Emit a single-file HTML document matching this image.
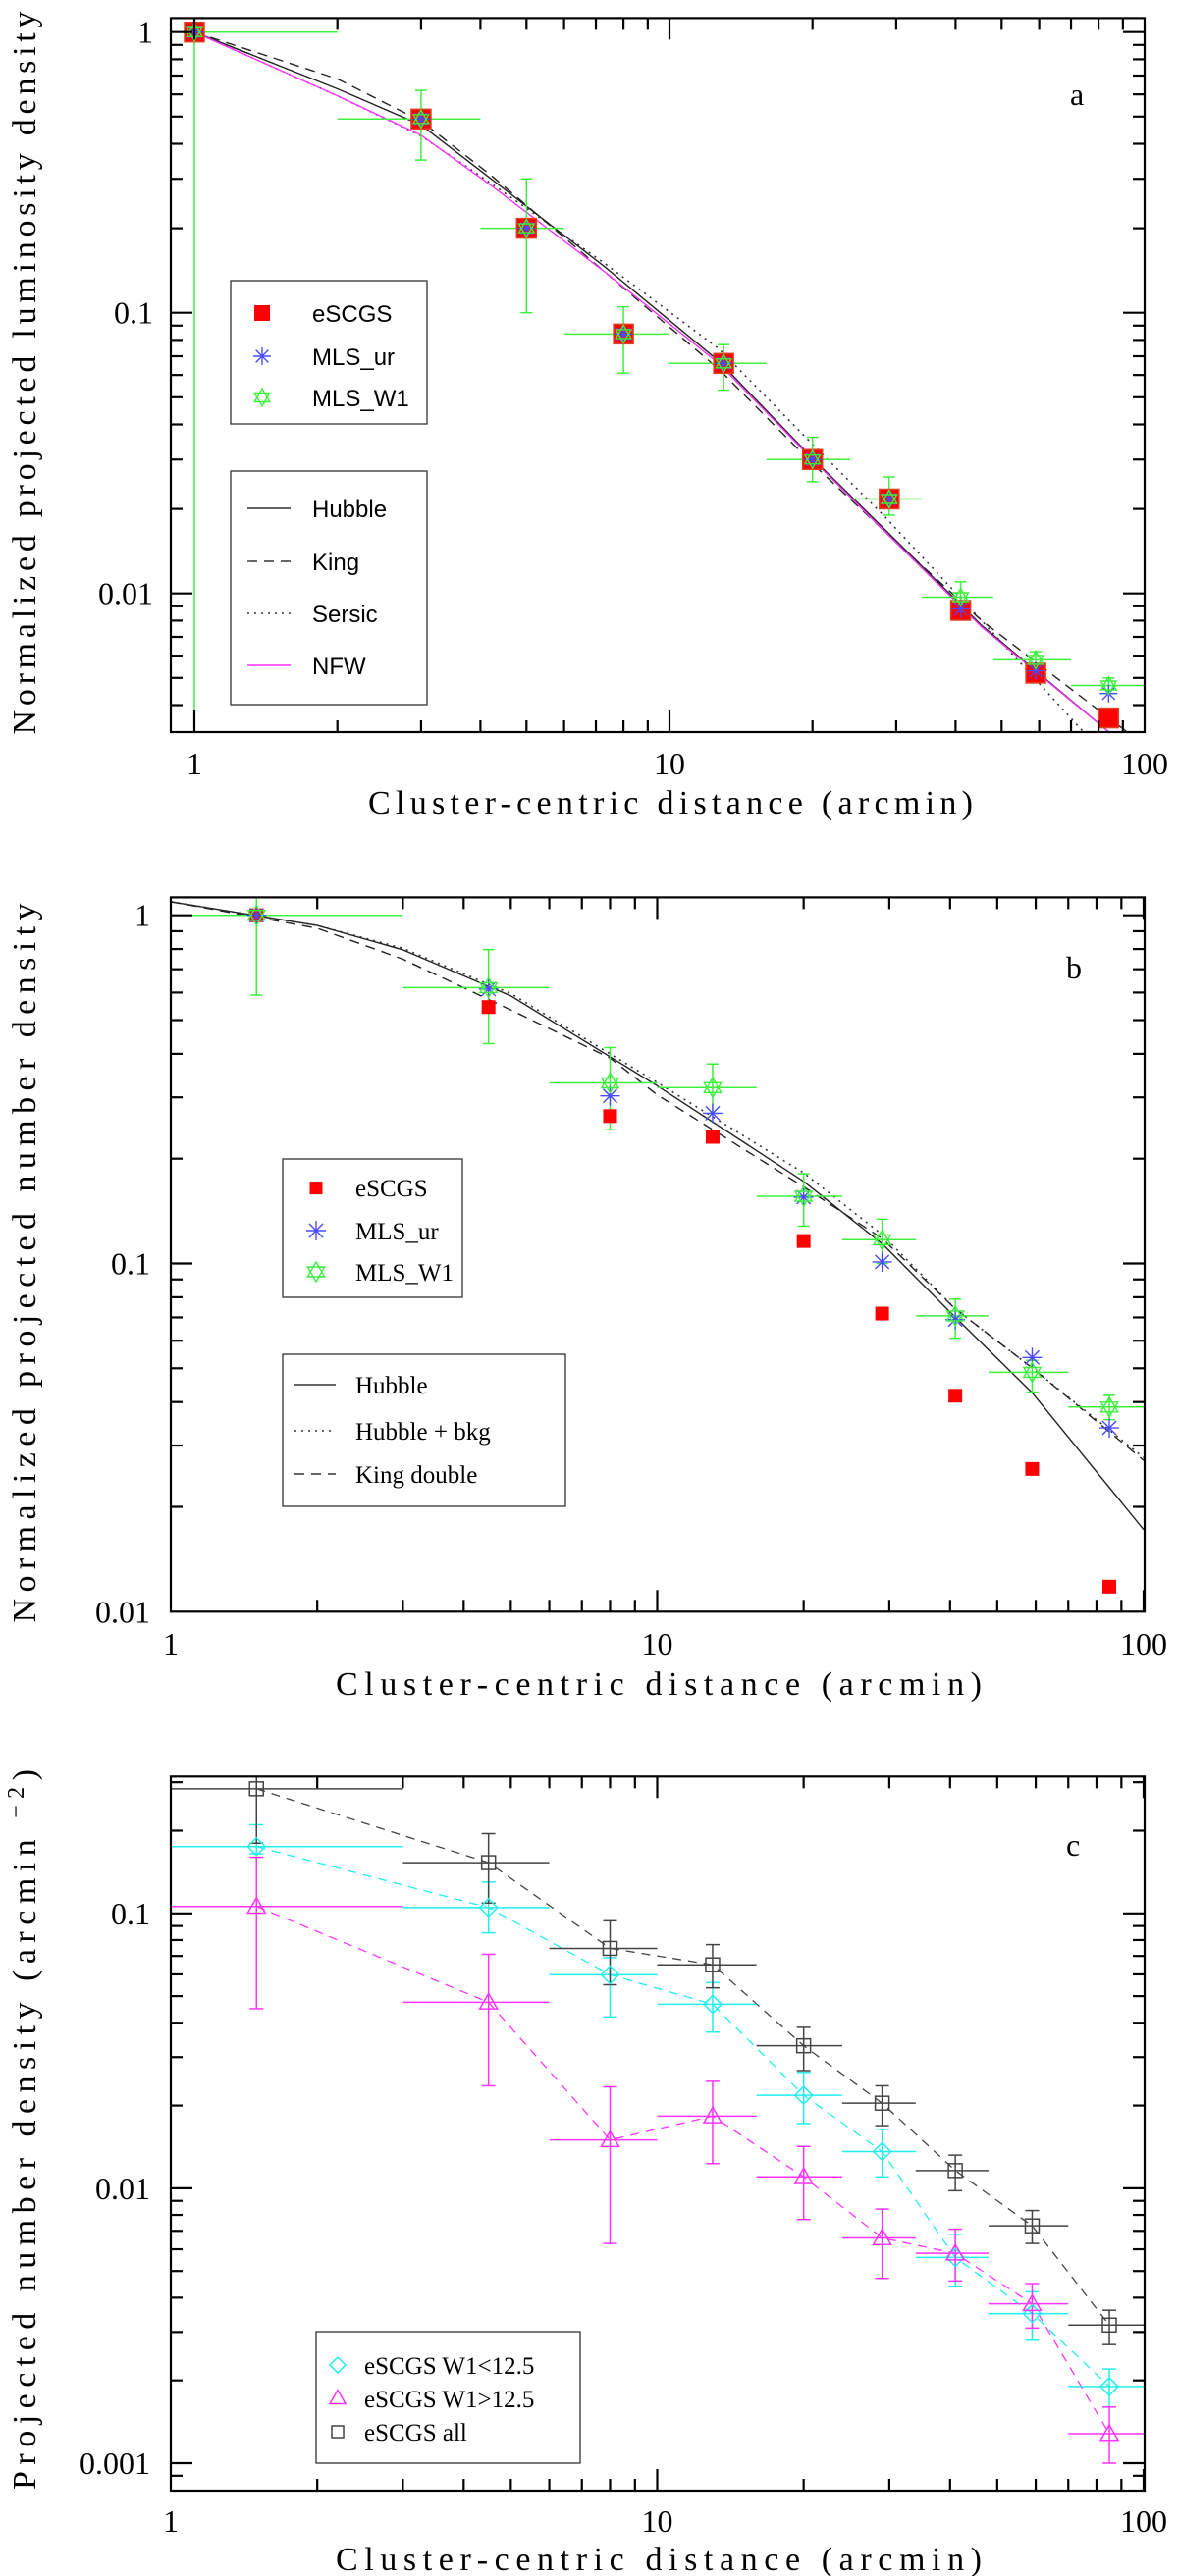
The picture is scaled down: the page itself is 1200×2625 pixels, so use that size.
<!DOCTYPE html>
<html><head><meta charset="utf-8"><style>
html,body{margin:0;padding:0;background:#fff}
svg{display:block}
</style></head><body>
<svg id="fig" xmlns="http://www.w3.org/2000/svg" width="1200" height="2625" viewBox="0 0 1200 2625">
<rect width="1200" height="2625" fill="#fff"/>
</svg>
<script>
// ---------- Panel a data ----------
const aX = [1, 3, 5, 8, 13, 20, 29, 41, 59, 84];
const aEscgs = [1, 0.49, 0.20, 0.084, 0.066, 0.030, 0.0217, 0.0087, 0.0052, 0.0036];
const aMlsUr = [1, 0.49, 0.20, 0.084, 0.066, 0.030, 0.0217, 0.0088, 0.0053, 0.0044];
const aMlsW1 = [1, 0.49, 0.20, 0.084, 0.066, 0.030, 0.0217, 0.0097, 0.0058, 0.0047];
const aXlo = [1, 2, 4, 6, 10, 16, 24, 34, 48, 70];
const aXhi = [2, 4, 6, 10, 16, 24, 34, 48, 70, 100];
const aYlo = [0.001, 0.35, 0.10, 0.061, 0.053, 0.025, 0.019, 0.0085, 0.0052, 0.0044];
const aYhi = [1, 0.62, 0.30, 0.105, 0.077, 0.036, 0.026, 0.011, 0.0062, 0.005];
const aHubbleX = [1, 2, 3, 4.2, 7.3, 12.7, 20, 28.2, 45.4, 85];
const aHubbleY = [1, 0.628, 0.467, 0.301, 0.146, 0.0673, 0.0303, 0.0171, 0.00769, 0.00316];
const aKingX = [1, 2, 3, 4.2, 7.3, 12.7, 20, 28.2, 45.4, 93];
const aKingY = [1, 0.681, 0.482, 0.31, 0.140, 0.0630, 0.0290, 0.0168, 0.0080, 0.00316];
const aSersicX = [1, 2, 3, 4.2, 7.3, 12.7, 20, 28.2, 45.4, 75];
const aSersicY = [1, 0.593, 0.427, 0.29, 0.150, 0.0745, 0.0340, 0.0190, 0.0080, 0.00316];
const aNfwX = [1, 2, 3, 4.2, 7.3, 12.7, 20, 28.2, 45.4, 85];
const aNfwY = [1, 0.593, 0.429, 0.285, 0.140, 0.0660, 0.0300, 0.0168, 0.00760, 0.00316];
// ---------- Panel b data ----------
const bX = [1.5, 4.5, 8, 13, 20, 29, 41, 59, 85];
const bEscgs = [1, 0.545, 0.265, 0.231, 0.116, 0.0718, 0.0417, 0.0257, 0.0118];
const bMlsUr = [1, 0.614, 0.303, 0.270, 0.155, 0.101, 0.069, 0.0537, 0.0337];
const bMlsW1 = [1, 0.62, 0.33, 0.32, 0.156, 0.117, 0.0707, 0.0487, 0.0387];
const bXlo = [1, 3, 6, 10, 16, 24, 34, 48, 70];
const bXhi = [3, 6, 10, 16, 24, 34, 48, 70, 100];
const bYlo = [0.59, 0.428, 0.242, 0.27, 0.128, 0.10, 0.061, 0.0427, 0.0356];
const bYhi = [1.2, 0.797, 0.417, 0.374, 0.181, 0.134, 0.079, 0.0527, 0.0418];
const bHubbleX = [1, 2, 3, 5, 10, 20, 29, 41, 59, 100];
const bHubbleY = [1.094, 0.935, 0.796, 0.587, 0.324, 0.172, 0.114, 0.0701, 0.0425, 0.0172];
const bBkgX = [1, 2, 3, 5, 10, 20, 29, 41, 59, 100];
const bBkgY = [1.094, 0.935, 0.804, 0.596, 0.331, 0.182, 0.121, 0.0741, 0.0501, 0.0277];
const bKingX = [1, 2, 3, 5, 8, 10, 20, 29, 41, 59, 100];
const bKingY = [1.094, 0.918, 0.748, 0.535, 0.389, 0.305, 0.166, 0.118, 0.0741, 0.0501, 0.0272];
// ---------- Panel c data ----------
const cX = [1.5, 4.5, 8, 13, 20, 29, 41, 59, 85];
const cXlo = [1, 3, 6, 10, 16, 24, 34, 48, 70];
const cXhi = [3, 6, 10, 16, 24, 34, 48, 70, 100];
const cAll = [0.284, 0.153, 0.0746, 0.065, 0.033, 0.0204, 0.0116, 0.0073, 0.00318];
const cAllLo = [0.18, 0.109, 0.055, 0.0536, 0.0268, 0.0169, 0.0098, 0.0063, 0.0027];
const cAllHi = [0.32, 0.195, 0.094, 0.077, 0.0385, 0.0236, 0.0132, 0.0083, 0.0036];
const cBright = [0.175, 0.105, 0.0598, 0.0467, 0.0218, 0.0136, 0.0056, 0.0035, 0.0019];
const cBrightLo = [0.165, 0.085, 0.042, 0.037, 0.0172, 0.011, 0.0044, 0.0028, 0.0016];
const cBrightHi = [0.21, 0.13, 0.069, 0.056, 0.0264, 0.0164, 0.0068, 0.0042, 0.0022];
const cFaint = [0.106, 0.0475, 0.015, 0.0183, 0.011, 0.0066, 0.0058, 0.0038, 0.00128];
const cFaintLo = [0.045, 0.0236, 0.0063, 0.0123, 0.0077, 0.0047, 0.0046, 0.0031, 0.001];
const cFaintHi = [0.16, 0.071, 0.0234, 0.0245, 0.0142, 0.0084, 0.0071, 0.0045, 0.0016];

const NS = 'http://www.w3.org/2000/svg';
const svg = document.getElementById('fig');
const GREEN = '#3ef03e', BLUE = '#4a4aff', RED = '#ff0000', MAG = '#ff33ff', CYAN = '#22eeee', GRAY = '#444';
function mk(tag, attrs, parent) {
  const e = document.createElementNS(NS, tag);
  for (const k in attrs) e.setAttribute(k, attrs[k]);
  (parent || svg).appendChild(e);
  return e;
}
const L = Math.log10;

function makePanel(id, box, xAt1, xDec, yRefVal, yRefPix, yDec) {
  const P = {box};
  P.X = v => xAt1 + L(v) * xDec;
  P.Y = v => yRefPix - (L(v) - L(yRefVal)) * yDec;
  P.g = mk('g', {});
  
  
  const cp = mk('clipPath', {id: 'clip-' + id});
  mk('rect', {x: box.l, y: box.t, width: box.r - box.l, height: box.b - box.t}, cp);
  P.data = mk('g', {'clip-path': 'url(#clip-' + id + ')'}, P.g);
  
  
  return P;
}

function axes(P, id, yTicks, yLabels, xLabelY, yLabRight) {
  const b = P.box;
  const ax = mk('g', {stroke: '#000', 'stroke-width': 2.2, fill: 'none'}, P.g);
  
  
  mk('rect', {x: b.l, y: b.t, width: b.r - b.l, height: b.b - b.t}, ax);
  for (let d = 0; d <= 2; d++) for (let m = 1; m <= 9; m++) {
    const v = m * Math.pow(10, d);
    const x = P.X(v);
    if (x < b.l + 1 || x > b.r - 1) continue;
    const len = m === 1 ? 22 : 12;
    mk('line', {x1: x, x2: x, y1: b.b, y2: b.b - len}, ax);
    mk('line', {x1: x, x2: x, y1: b.t, y2: b.t + len}, ax);
  }
  for (let d = -4; d <= 1; d++) for (let m = 1; m <= 9; m++) {
    const v = m * Math.pow(10, d);
    const y = P.Y(v);
    if (y < b.t + 1 || y > b.b - 1) continue;
    const len = m === 1 ? 22 : 12;
    mk('line', {x1: b.l, x2: b.l + len, y1: y, y2: y}, ax);
    mk('line', {x1: b.r, x2: b.r - len, y1: y, y2: y}, ax);
  }
  const xl = ['1', '10', '100'], xv = [1, 10, 100];
  xv.forEach((v, i) => {
    const t = mk('text', {x: P.X(v), y: xLabelY, 'text-anchor': 'middle', 'font-family': 'Liberation Serif, serif', 'font-size': 32, fill: '#000'}, P.g);
    t.textContent = xl[i];
    
    
  });
  yTicks.forEach((v, i) => {
    const t = mk('text', {x: yLabRight, y: P.Y(v) + 11, 'text-anchor': 'end', 'font-family': 'Liberation Serif, serif', 'font-size': 32, fill: '#000'}, P.g);
    t.textContent = yLabels[i];
    
    
  });
}

function titles(P, id, xt, xc, xb, xlen, yt, yc, ylen, sup) {
  const t = mk('text', {x: xc, y: xb, 'text-anchor': 'middle', 'font-family': 'Liberation Serif, serif', 'font-size': 34, fill: '#000', textLength: xlen, lengthAdjust: 'spacing'}, P.g);
  t.textContent = xt;
  
  
  const y = mk('text', {x: 0, y: 0, 'text-anchor': 'middle', 'font-family': 'Liberation Serif, serif', 'font-size': 34, fill: '#000', transform: 'translate(36,' + yc + ') rotate(-90)', textLength: ylen, lengthAdjust: 'spacing'}, P.g);
  if (sup) {
    y.appendChild(document.createTextNode(yt));
    const s = mk('tspan', {'font-size': 24, dy: -12}, y);
    s.textContent = '\u2212' + '2';
    const s2 = mk('tspan', {dy: 12}, y);
    s2.textContent = ')';
  } else y.textContent = yt;
  
  
}

function polyline(P, xs, ys, color, dash, w, name) {
  const pts = xs.map((x, i) => P.X(x).toFixed(1) + ',' + P.Y(ys[i]).toFixed(1)).join(' ');
  const p = mk('polyline', {points: pts, fill: 'none', stroke: color, 'stroke-width': w || 1.4, 'stroke-dasharray': dash || 'none', 'stroke-linejoin': 'round'}, P.data);
  
  
  return p;
}

function errbar(P, x, y, xlo, xhi, ylo, yhi, color, cap, name) {
  const g = mk('g', {stroke: color, 'stroke-width': 1.5}, P.data);
  
  
  mk('line', {x1: P.X(xlo), x2: P.X(xhi), y1: P.Y(y), y2: P.Y(y)}, g);
  mk('line', {x1: P.X(x), x2: P.X(x), y1: P.Y(ylo), y2: P.Y(yhi)}, g);
  mk('line', {x1: P.X(x) - cap, x2: P.X(x) + cap, y1: P.Y(ylo), y2: P.Y(ylo)}, g);
  mk('line', {x1: P.X(x) - cap, x2: P.X(x) + cap, y1: P.Y(yhi), y2: P.Y(yhi)}, g);
}

function sq(parent, cx, cy, s, fill, stroke) {
  return mk('rect', {x: cx - s / 2, y: cy - s / 2, width: s, height: s, fill: fill, stroke: stroke || 'none', 'stroke-width': 1.5}, parent);
}
function star(parent, cx, cy, r, color) {
  const g = mk('g', {stroke: color, 'stroke-width': 1.4}, parent);
  for (let k = 0; k < 4; k++) {
    const a = k * Math.PI / 4;
    mk('line', {x1: cx - r * Math.cos(a), y1: cy - r * Math.sin(a), x2: cx + r * Math.cos(a), y2: cy + r * Math.sin(a)}, g);
  }
  return g;
}
function david(parent, cx, cy, r, color) {
  const g = mk('g', {stroke: color, 'stroke-width': 1.4, fill: 'none'}, parent);
  const t1 = [], t2 = [];
  for (let k = 0; k < 3; k++) {
    const a = -Math.PI / 2 + k * 2 * Math.PI / 3;
    t1.push((cx + r * Math.cos(a)).toFixed(1) + ',' + (cy + r * Math.sin(a)).toFixed(1));
    t2.push((cx + r * Math.cos(a + Math.PI)).toFixed(1) + ',' + (cy + r * Math.sin(a + Math.PI)).toFixed(1));
  }
  mk('polygon', {points: t1.join(' ')}, g);
  mk('polygon', {points: t2.join(' ')}, g);
  return g;
}
function diamond(parent, cx, cy, r, color) {
  return mk('polygon', {points: `${cx},${cy - r} ${cx + r},${cy} ${cx},${cy + r} ${cx - r},${cy}`, fill: 'none', stroke: color, 'stroke-width': 1.5}, parent);
}
function tri(parent, cx, cy, r, color) {
  return mk('polygon', {points: `${cx},${cy - r} ${cx + r},${cy + r * 0.75} ${cx - r},${cy + r * 0.75}`, fill: 'none', stroke: color, 'stroke-width': 1.5}, parent);
}
function legendBox(P, x, y, w, h, name) {
  const r = mk('rect', {x: x, y: y, width: w, height: h, fill: '#fff', stroke: '#333', 'stroke-width': 1.3}, P.g);
  
  
}
function ltext(P, x, y, s, font, size, name) {
  const t = mk('text', {x: x, y: y, 'font-family': font, 'font-size': size, fill: '#000'}, P.g);
  t.textContent = s;
  
  
  return t;
}

// ================= Panel a =================
const A = makePanel('a', {l: 174, r: 1166, t: 18.4, b: 746}, 198, 484, 1, 32.7, 286);
polyline(A, aHubbleX, aHubbleY, '#222', null, 1.4, 'hubble-curve');
polyline(A, aKingX, aKingY, '#222', '10 7', 1.4, 'king-curve');
polyline(A, aSersicX, aSersicY, '#333', '2 5', 1.6, 'sersic-curve');
polyline(A, aNfwX, aNfwY, MAG, null, 1.4, 'nfw-curve');
aX.forEach((x, i) => {
  errbar(A, x, aMlsW1[i], aXlo[i], aXhi[i], aYlo[i], aYhi[i], GREEN, 6, 'mls-w1-errorbar');
});
aX.forEach((x, i) => {
  const s = sq(A.data, A.X(x), A.Y(aEscgs[i]), 20, RED, '#e04020');
  
  
  const st = star(A.data, A.X(x), A.Y(aMlsUr[i]), 9, BLUE);
  
  
  const d = david(A.data, A.X(x), A.Y(aMlsW1[i]), 9, GREEN);
  
  
});
axes(A, 'a', [1, 0.1, 0.01], ['1', '0.1', '0.01'], 789, 156);
titles(A, 'a', 'Cluster-centric distance (arcmin)', 683, 829, 616, 'Normalized projected luminosity density', 380, 737, false);
ltext(A, 1090, 107, 'a', 'Liberation Serif, serif', 32, 'panel-label-a');
legendBox(A, 235, 286, 200, 146, 'legend-markers-a');
sq(A.g, 267, 319, 16, RED);
star(A.g, 267, 363, 9, BLUE);
david(A.g, 267, 405, 9, GREEN);
const LS = 'Liberation Sans, sans-serif';
ltext(A, 318, 328, 'eSCGS', LS, 24, 'legend-entry-escgs');
ltext(A, 318, 372, 'MLS_ur', LS, 24, 'legend-entry-mls-ur');
ltext(A, 318, 414, 'MLS_W1', LS, 24, 'legend-entry-mls-w1');
legendBox(A, 235, 480, 200, 238, 'legend-models-a');
mk('line', {x1: 252, x2: 296, y1: 518, y2: 518, stroke: '#333', 'stroke-width': 1.4}, A.g);
mk('line', {x1: 252, x2: 296, y1: 572, y2: 572, stroke: '#333', 'stroke-width': 1.4, 'stroke-dasharray': '10 7'}, A.g);
mk('line', {x1: 252, x2: 296, y1: 625, y2: 625, stroke: '#333', 'stroke-width': 1.6, 'stroke-dasharray': '2 5'}, A.g);
mk('line', {x1: 252, x2: 296, y1: 678, y2: 678, stroke: MAG, 'stroke-width': 1.6}, A.g);
ltext(A, 318, 527, 'Hubble', LS, 24, 'legend-entry-hubble');
ltext(A, 318, 581, 'King', LS, 24, 'legend-entry-king');
ltext(A, 318, 634, 'Sersic', LS, 24, 'legend-entry-sersic');
ltext(A, 318, 687, 'NFW', LS, 24, 'legend-entry-nfw');

// ================= Panel b =================
const B = makePanel('b', {l: 174, r: 1166, t: 914.4, b: 1642.3}, 174, 495.5, 1, 932.7, 354.8);
polyline(B, bHubbleX, bHubbleY, '#222', null, 1.4, 'hubble-curve');
polyline(B, bBkgX, bBkgY, '#333', '2 5', 1.6, 'hubble-bkg-curve');
polyline(B, bKingX, bKingY, '#222', '10 7', 1.4, 'king-double-curve');
bX.forEach((x, i) => {
  errbar(B, x, bMlsW1[i], bXlo[i], bXhi[i], bYlo[i], bYhi[i], GREEN, 6, 'mls-w1-errorbar');
});
bX.forEach((x, i) => {
  const s = sq(B.data, B.X(x), B.Y(bEscgs[i]), 14, RED);
  
  
  const st = star(B.data, B.X(x), B.Y(bMlsUr[i]), 10, BLUE);
  
  
  const d = david(B.data, B.X(x), B.Y(bMlsW1[i]), 10, GREEN);
  
  
});
axes(B, 'b', [1, 0.1, 0.01], ['1', '0.1', '0.01'], 1686, 153);
titles(B, 'b', 'Cluster-centric distance (arcmin)', 671, 1727, 658, 'Normalized projected number density', 1287, 733, false);
ltext(B, 1086, 997, 'b', 'Liberation Serif, serif', 32, 'panel-label-b');
const SF = 'Liberation Serif, serif';
legendBox(B, 288, 1181, 183, 141, 'legend-markers-b');
sq(B.g, 322, 1210.6, 13, RED);
star(B.g, 322, 1254, 10, BLUE);
david(B.g, 322, 1296, 10, GREEN);
ltext(B, 362, 1219, 'eSCGS', SF, 25, 'legend-entry-escgs');
ltext(B, 362, 1263, 'MLS_ur', SF, 25, 'legend-entry-mls-ur');
ltext(B, 362, 1305, 'MLS_W1', SF, 25, 'legend-entry-mls-w1');
legendBox(B, 288, 1380, 288, 155, 'legend-models-b');
mk('line', {x1: 300, x2: 342, y1: 1411, y2: 1411, stroke: '#333', 'stroke-width': 1.4}, B.g);
mk('line', {x1: 300, x2: 342, y1: 1458, y2: 1458, stroke: '#333', 'stroke-width': 1.6, 'stroke-dasharray': '2 5'}, B.g);
mk('line', {x1: 300, x2: 342, y1: 1502, y2: 1502, stroke: '#333', 'stroke-width': 1.4, 'stroke-dasharray': '10 7'}, B.g);
ltext(B, 362, 1420, 'Hubble', SF, 25, 'legend-entry-hubble');
ltext(B, 362, 1467, 'Hubble + bkg', SF, 25, 'legend-entry-hubble-bkg');
ltext(B, 362, 1511, 'King double', SF, 25, 'legend-entry-king-double');

// ================= Panel c =================
const C = makePanel('c', {l: 174, r: 1166, t: 1810.3, b: 2538}, 174, 495.5, 0.1, 1949.8, 280.1);
polyline(C, cX, cAll, GRAY, '9 7', 1.3, 'all-connector');
polyline(C, cX, cBright, CYAN, '9 7', 1.3, 'bright-connector');
polyline(C, cX, cFaint, MAG, '9 7', 1.3, 'faint-connector');
cX.forEach((x, i) => {
  errbar(C, x, cBright[i], cXlo[i], cXhi[i], cBrightLo[i], cBrightHi[i], CYAN, 7, 'bright-errorbar');
  errbar(C, x, cFaint[i], cXlo[i], cXhi[i], cFaintLo[i], cFaintHi[i], MAG, 7, 'faint-errorbar');
  errbar(C, x, cAll[i], cXlo[i], cXhi[i], cAllLo[i], cAllHi[i], GRAY, 7, 'all-errorbar');
});
cX.forEach((x, i) => {
  const d = diamond(C.data, C.X(x), C.Y(cBright[i]), 9, CYAN);
  
  
  const t = tri(C.data, C.X(x), C.Y(cFaint[i]), 9, MAG);
  
  
  const s = sq(C.data, C.X(x), C.Y(cAll[i]), 14, 'none', GRAY);
  
  
});
axes(C, 'c', [0.1, 0.01, 0.001], ['0.1', '0.01', '0.001'], 2580, 153);
titles(C, 'c', 'Cluster-centric distance (arcmin)', 671, 2619, 658, 'Projected number density (arcmin ', 2170, 734, true);
ltext(C, 1086, 1891, 'c', 'Liberation Serif, serif', 32, 'panel-label-c');
legendBox(C, 322, 2376, 269, 134, 'legend-c');
diamond(C.g, 344, 2410, 8, CYAN);
tri(C.g, 344, 2443.5, 8, MAG);
sq(C.g, 344, 2478, 12, 'none', GRAY);
ltext(C, 371, 2419, 'eSCGS  W1<12.5', SF, 25, 'legend-entry-bright');
ltext(C, 371, 2453, 'eSCGS  W1>12.5', SF, 25, 'legend-entry-faint');
ltext(C, 371, 2487, 'eSCGS  all', SF, 25, 'legend-entry-all');
</script>
</body></html>
